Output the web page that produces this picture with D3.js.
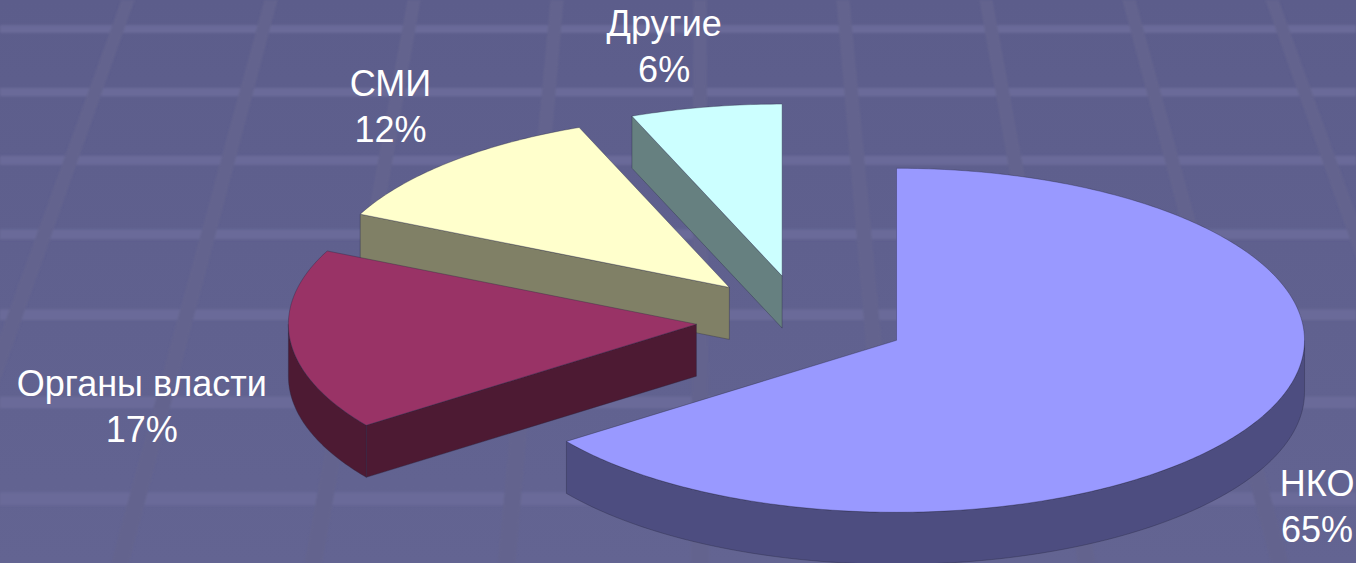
<!DOCTYPE html>
<html>
<head>
<meta charset="utf-8">
<script src="https://cdn.jsdelivr.net/npm/d3@7"></script>
<style>
  html, body { margin: 0; padding: 0; background: #5e5f8e; overflow: hidden; }
  svg { display: block; }
</style>
</head>
<body>
<svg id="chart" width="1356" height="563"></svg>
<script>
// Share of respondents by sector
const categories = ["НКО", "Органы власти", "СМИ", "Другие"];
const shares = [65, 17, 12, 6];
const percentLabels = ["65%", "17%", "12%", "6%"];

// Palette: top faces and their shaded side walls
const topFill = ["#9999ff", "#993366", "#ffffcc", "#ccffff"];
const sideFill = ["#4d4d80", "#4d1a33", "#808066", "#668080"];

// Fine adjustment of label boxes after automatic outside placement (px)
const labelNudge = [[6, 7], [-4, 8], [-18, -9], [-27, 2]];

const W = 1356, H = 563;
const svg = d3.select("#chart");
const defs = svg.append("defs");

// ---- backdrop: perspective floor grid ----
const bg = defs.append("linearGradient").attr("id", "bg")
  .attr("x1", 0).attr("y1", 0).attr("x2", 0).attr("y2", 1);
bg.append("stop").attr("offset", "0%").attr("stop-color", "#5c5d8b");
bg.append("stop").attr("offset", "100%").attr("stop-color", "#636492");
defs.append("filter").attr("id", "soft")
  .append("feGaussianBlur").attr("stdDeviation", 0.8);

svg.append("rect").attr("width", W).attr("height", H).attr("fill", "url(#bg)");

const horizonY = -1600, vanishX = 700;
const floor = svg.append("g").attr("filter", "url(#soft)");
const inv0 = 1 / (29 - horizonY), invStep = 2.29e-5, bandW = 2.9e-6;
for (let k = -1; k < 10; k++) {
  const a = inv0 - k * invStep;
  const y1 = 1 / (a + bandW / 2) + horizonY;
  const y2 = 1 / (a - bandW / 2) + horizonY;
  if (y2 < 0 || y1 > H) continue;
  floor.append("rect").attr("x", 0).attr("y", y1)
    .attr("width", W).attr("height", y2 - y1).attr("fill", "#6a6b99");
}
const spacing = 143, lineW = 13;
for (let j = -6; j <= 6; j++) {
  const x0 = vanishX + j * spacing;
  const at = y => {
    const s = (y - horizonY) / (-horizonY);
    return [vanishX + (x0 - vanishX) * s, lineW * s];
  };
  const [xt, wt] = at(0), [xb, wb] = at(H);
  floor.append("polygon")
    .attr("points", [[xt - wt / 2, 0], [xt + wt / 2, 0], [xb + wb / 2, H], [xb - wb / 2, H]].join(" "))
    .attr("fill", "#64648e");
}

// ---- 3D exploded pie ----
const cx = 802, cy = 320, rx = 408, ry = 172, depth = 52, explode = 0.26;

const slices = d3.pie().sort(null).value(d => d)(shares).map((d, i) => {
  const mid = (d.startAngle + d.endAngle) / 2;
  return {
    ...d, i, mid,
    off: [explode * rx * Math.sin(mid), -explode * ry * Math.cos(mid)]
  };
});

function proj(a, r, z, off) {
  return [cx + off[0] + r * rx * Math.sin(a), cy + off[1] - r * ry * Math.cos(a) + z];
}
function arcPoints(a0, a1, z, off) {
  const n = Math.max(6, Math.ceil(Math.abs(a1 - a0) / (Math.PI / 240)));
  return d3.range(n + 1).map(k => proj(a0 + (a1 - a0) * k / n, 1, z, off));
}
const line = d3.line().curve(d3.curveLinearClosed);

// back-to-front drawing order
const order = slices.slice().sort((a, b) => a.off[1] - b.off[1]);

const pie = svg.append("g");
order.forEach(s => {
  const g = pie.append("g");
  const a0 = s.startAngle, a1 = s.endAngle, o = s.off;
  const apex = proj(0, 0, 0, o), apexB = proj(0, 0, depth, o);
  const faces = [];

  // radial walls that face the viewer
  if (Math.sin(a0) < -1e-6) {
    faces.push([apex, proj(a0, 1, 0, o), proj(a0, 1, depth, o), apexB]);
  }
  if (Math.sin(a1) > 1e-6) {
    faces.push([apex, proj(a1, 1, 0, o), proj(a1, 1, depth, o), apexB]);
  }
  // outer curved wall on the front half
  const s0 = Math.max(a0, Math.PI / 2), s1 = Math.min(a1, 3 * Math.PI / 2);
  if (s1 > s0) {
    faces.push(arcPoints(s0, s1, 0, o).concat(arcPoints(s1, s0, depth, o)));
  }

  faces.forEach(f => {
    g.append("path").attr("d", line(f))
      .attr("fill", sideFill[s.i])
      .attr("stroke", "#262640").attr("stroke-opacity", 0.45)
      .attr("stroke-width", 0.8).attr("stroke-linejoin", "round");
  });

  g.append("path").attr("d", line([apex].concat(arcPoints(a0, a1, 0, o))))
    .attr("fill", topFill[s.i])
    .attr("stroke", "#262640").attr("stroke-opacity", 0.45)
    .attr("stroke-width", 0.8).attr("stroke-linejoin", "round");
});

// ---- outside labels ----
const labels = svg.append("g")
  .attr("font-family", "'Liberation Sans', Arial, sans-serif")
  .attr("font-size", 36).attr("fill", "#ffffff").attr("text-anchor", "middle");

slices.forEach(s => {
  const t = labels.append("text");
  t.append("tspan").attr("x", 0).attr("y", 0).text(categories[s.i]);
  t.append("tspan").attr("x", 0).attr("y", 46).text(percentLabels[s.i]);
  const bb = t.node().getBBox();
  const dx = Math.sin(s.mid), dy = -Math.cos(s.mid);
  const edge = proj(s.mid, 1, dy > 0 ? depth : 0, s.off);
  const gap = 20;
  const ccx = edge[0] + dx * (gap + bb.width / 2) + labelNudge[s.i][0];
  const ccy = edge[1] + dy * (gap + bb.height / 2) + labelNudge[s.i][1];
  t.attr("transform", `translate(${ccx - (bb.x + bb.width / 2)},${ccy - (bb.y + bb.height / 2)})`);
});
</script>
</body>
</html>
